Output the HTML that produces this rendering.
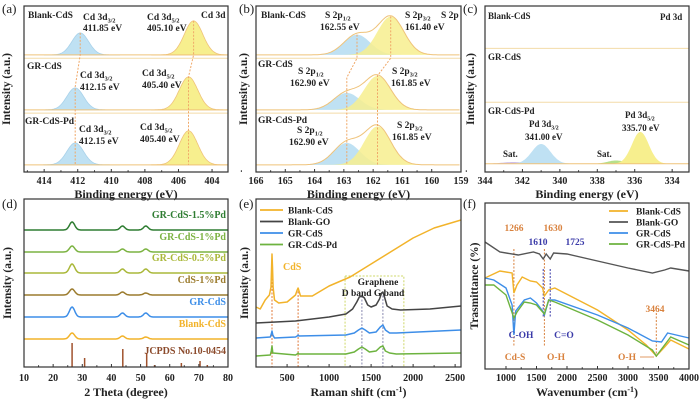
<!DOCTYPE html>
<html><head><meta charset="utf-8"><style>
html,body{margin:0;padding:0;background:#fff;}
svg{display:block;font-family:"Liberation Serif",serif;font-weight:bold;}
</style></head><body>
<svg id="fig" width="700" height="404" viewBox="0 0 700 404" xmlns="http://www.w3.org/2000/svg"></svg>
<script>
// ===== data =====
// (a) Cd 3d XPS
const aSamples=['Blank-CdS','GR-CdS','GR-CdS-Pd'];
const aOffsets=[2.13,1.13,0.13];
const aCd32Pos=[411.85,412.15,412.15];
const aCd32Height=[0.40,0.40,0.40];
const aCd52Pos=[405.10,405.40,405.40];
const aCd52Height=[0.62,0.60,0.62];
const aDividers=[2.07,1.07];
const aTicks=[414,412,410,408,406,404];
// (b) S 2p XPS
const bOffsets=[2.13,1.13,0.13];
const bS12Pos=[162.55,162.90,162.90];
const bS12Height=[0.37,0.31,0.40];
const bS32Pos=[161.40,161.85,161.85];
const bS32Height=[0.70,0.62,0.70];
const bDividers=[2.07,1.07];
const bTicks=[166,165,164,163,162,161,160,159];
// (c) Pd 3d XPS
const cPeakPos=[342.5,341.0,337.0,335.7];
const cPeakHeight=[0.03,0.36,0.06,0.58];
const cPeakWidth=[0.6,0.5,0.45,0.45];
const cOffset=0.15;
const cDividers=[2.25,1.27];
const cTicks=[344,342,340,338,336,334];
// (d) XRD
const dSamples=['GR-CdS-1.5%Pd','GR-CdS-1%Pd','GR-CdS-0.5%Pd','CdS-1%Pd','GR-CdS','Blank-CdS'];
const dBaselines=[137,115,94,72,50,28];
const dPeakPos=[26.5,43.8,51.8];
const dHeights=[[8,4,4],[6,3,3],[9,4,4],[6,3,2],[10,4,4],[6,3,2]];
const dRefPos=[26.5,30.8,43.9,52.1,54.8,64.0,70.4,72.9];
const dRefHeight=[24,9,18,14,2,4,6,2];
const dTicks=[10,20,30,40,50,60,70,80];
// (e) Raman
const eCdSX=[130,180,240,290,308,316,321,326,334,350,400,500,600,620,631,642,660,800,1000,1250,1500,1750,2000,2250,2570];
const eCdSY=[60,58,67,72,80,100,113,100,80,67,64,65,72,77,79,76,71,71,81,90,103,116,129,139,147];
const eGOX=[130,600,1000,1200,1280,1330,1360,1390,1420,1460,1500,1560,1600,1625,1640,1660,1690,1750,1850,2200,2570];
const eGOY=[44,46,50,53,58,65,70,71,69,62,60,62,68,74,75,70,61,58,57,58,61];
const eGRX=[130,300,312,321,330,350,600,620,631,642,1200,1300,1350,1390,1430,1480,1560,1610,1640,1670,1720,1800,2570];
const eGRY=[29,30,33,36,32,29,30,31,32,31,32,34,37,39,37,34,35,40,42,37,34,34,37];
const ePdX=[130,300,312,321,330,600,620,631,642,1200,1300,1350,1390,1430,1480,1560,1610,1640,1670,1720,1800,2570];
const ePdY=[11,12,16,21,14,12,13,14,13,13,15,18,20,18,15,16,20,21,16,14,13,14];
const eTicks=[500,1000,1500,2000,2500];
// (f) FT-IR
const fGOX=[656,900,1200,1450,1550,1610,1660,1725,1780,2000,2500,3000,3400,3600,3700,4000];
const fGOY=[127,117,114,117,115,110,115,110,116,115,108,101,96,99,101,98];
const fCdSX=[656,900,1100,1130,1180,1266,1400,1500,1600,1630,1700,1800,2500,3000,3300,3464,3600,3700,4000];
const fCdSY=[91,98,96,76,84,92,88,87,81,73,79,81,59,39,24,13,22,29,20];
const fGRX=[656,800,1000,1100,1130,1160,1300,1400,1500,1600,1630,1700,1800,2500,3000,3400,3550,3650,4000];
const fGRY=[91,89,81,64,34,58,69,71,66,58,54,69,69,54,41,28,27,36,31];
const fPdX=[656,800,1000,1130,1180,1300,1400,1500,1630,1700,1800,2500,3000,3400,3464,3600,3700,4000];
const fPdY=[84,84,74,51,57,67,66,64,55,69,67,49,34,19,13,24,32,24];
const fTicks=[1000,1500,2000,2500,3000,3500,4000];

// ===== helpers =====
const NS='http://www.w3.org/2000/svg';
const svg=document.getElementById('fig');
function mk(tag,attrs,parent){const e=document.createElementNS(NS,tag);for(const k in attrs)e.setAttribute(k,attrs[k]);(parent||svg).appendChild(e);return e;}
function lin(d0,d1,r0,r1){return v=>r0+(v-d0)*(r1-r0)/(d1-d0);}
function txt(x,y,s,size,color,anchor,parent){
  const e=mk('text',{x:x,y:y,'font-size':size,fill:color||'#222','text-anchor':anchor||'start'},parent);
  const parts=s.split('_');
  e.appendChild(document.createTextNode(parts[0]));
  if(parts[1]){const t=mk('tspan',{'font-size':size*0.65,dy:size*0.25},e);t.textContent=parts[1];}
  return e;
}
function gauss(x,c,h,s){return h*Math.exp(-0.5*((x-c)/s)*((x-c)/s));}

const P={
 a:{x0:24,x1:228,y0:6,y1:172,X:lin(415.2,403.05,24,228),Y:lin(0,3.02,172,6)},
 b:{x0:256,x1:461,y0:6,y1:172,X:lin(166,159,256,461),Y:lin(0,3.02,172,6)},
 c:{x0:485,x1:689,y0:6,y1:172,X:lin(344,333.1,485,689),Y:lin(0,3.02,172,6)},
 d:{x0:24,x1:228,y0:199,y1:367,X:lin(10,80,24,228),Y:lin(0,168,367,199)},
 e:{x0:256,x1:461,y0:199,y1:367,X:lin(130,2570,256,461),Y:lin(0,168,367,199)},
 f:{x0:485,x1:689,y0:203,y1:369,X:lin(656,4000,485,689),Y:lin(0,166,369,203)}
};

function axes(key,ticks,minorStep,xtitle,ytitle,ytx,labelY,titleY){
  const p=P[key];
  const g=mk('g',{});
  
  
  const fr=mk('rect',{x:p.x0,y:p.y0,width:p.x1-p.x0,height:p.y1-p.y0,fill:'none',stroke:'#333','stroke-width':1.2},g);
  
  
  ticks.forEach((t,i)=>{
    const x=p.X(t);
    mk('line',{x1:x,x2:x,y1:p.y1,y2:p.y1-3,stroke:'#333','stroke-width':1},g);
    const lb=txt(x,labelY,String(t),10,'#222','middle',g);
    
    
    if(i<ticks.length-1){const m=p.X(t+minorStep);mk('line',{x1:m,x2:m,y1:p.y1,y2:p.y1-1.8,stroke:'#333','stroke-width':1},g);}
  });
  const xt=mk('text',{x:(p.x0+p.x1)/2,y:titleY,'font-size':12,'text-anchor':'middle',fill:'#222'},g);
  xt.innerHTML=xtitle;
  
  
  const yt=mk('text',{x:0,y:0,'font-size':11.5,'text-anchor':'middle',fill:'#222',transform:`translate(${ytx},${(p.y0+p.y1)/2}) rotate(-90)`},g);
  yt.textContent=ytitle;
  
  
}
function pathFrom(xs,ys,p){return xs.map((v,i)=>(i?'L':'M')+p.X(v).toFixed(1)+','+p.Y(ys[i]).toFixed(1)).join(' ');}
function peak(p,lo,hi,c,h,s,off,fill,stroke){
  let d='M'+p.X(lo)+','+p.Y(off);
  for(let x=lo;(lo<hi?x<=hi:x>=hi);x+=(hi-lo)/80){d+=' L'+p.X(x).toFixed(1)+','+p.Y(off+gauss(x,c,h,s)).toFixed(1);}
  d+=' L'+p.X(hi)+','+p.Y(off)+' Z';
  return mk('path',{d:d,fill:fill,stroke:stroke||'none','stroke-width':0.8});
}
function poly(p,pts,color,dash,w){return mk('path',{d:pts.map((q,i)=>(i?'L':'M')+p.X(q[0]).toFixed(1)+','+p.Y(q[1]).toFixed(1)).join(' '),fill:'none',stroke:color,'stroke-dasharray':dash||'none','stroke-width':w||1});}

const BLUE='#bfe1f3',YEL='#f7ef8e',ENV='#efc37a',DASH='#f0a868';

// panel letters
[['(a)',2,13],['(b)',239,13],['(c)',463,13],['(d)',2,208],['(e)',239,208],['(f)',463,208]].forEach(l=>{
  const e=mk('text',{x:l[1],y:l[2],'font-size':13,'font-weight':'normal',fill:'#222'});e.textContent=l[0];
  
  
});

// ===== (a) =====
(function(){
 const p=P.a;
 aDividers.forEach(v=>{const l=mk('line',{x1:p.x0,x2:p.x1,y1:p.Y(v),y2:p.Y(v),stroke:'#f3dba8','stroke-width':1});
  
  });
 aSamples.forEach((s,i)=>{
  const b=peak(p,414,409.5,aCd32Pos[i],aCd32Height[i],0.5,aOffsets[i],BLUE,'#a9d2ea');
  
  
  const y=peak(p,407.6,403.1,aCd52Pos[i],aCd52Height[i],0.55,aOffsets[i],YEL,ENV);
  
  
  const bl=poly(p,[[415.2,aOffsets[i]],[403.05,aOffsets[i]]],ENV,null,1);
  
  
 });
 const g1=poly(p,[[aCd32Pos[0],aOffsets[0]+aCd32Height[0]],[aCd32Pos[0],aOffsets[0]],[aCd32Pos[1],1.55],[aCd32Pos[2],aOffsets[2]]],DASH,'2,1.5');
 
 
 const g2=poly(p,[[aCd52Pos[0],aOffsets[0]+aCd52Height[0]],[aCd52Pos[0],aOffsets[0]],[aCd52Pos[1],1.73],[aCd52Pos[2],aOffsets[2]]],DASH,'2,1.5');
 
 
 axes('a',aTicks,1,'Binding energy (eV)','Intensity (a.u.)',10,184,198);
})();

// ===== (b) =====
(function(){
 const p=P.b;
 bDividers.forEach(v=>{const l=mk('line',{x1:p.x0,x2:p.x1,y1:p.Y(v),y2:p.Y(v),stroke:'#f3dba8','stroke-width':1});
  
  });
 bOffsets.forEach((o,i)=>{
  const b=peak(p,166,159,bS12Pos[i],bS12Height[i],0.45,o,BLUE,'none');
  
  
  const y=peak(p,166,159,bS32Pos[i],bS32Height[i],0.45,o,'rgba(247,239,142,0.85)','none');
  
  
  let d='';for(let x=166;x>=159;x-=0.05){d+=(d?' L':'M')+p.X(x).toFixed(1)+','+p.Y(o+gauss(x,bS12Pos[i],bS12Height[i],0.45)+gauss(x,bS32Pos[i],bS32Height[i],0.45)).toFixed(1);}
  const env=mk('path',{d:d,fill:'none',stroke:ENV,'stroke-width':1});
  
  
 });
 const g1=poly(p,[[bS12Pos[0],2.5],[bS12Pos[0],2.07],[bS12Pos[1],1.72],[bS12Pos[2],bOffsets[2]]],DASH,'2,1.5');
 
 
 const g2=poly(p,[[bS32Pos[0],bOffsets[0]+bS32Height[0]],[bS32Pos[0],2.07],[bS32Pos[1],1.75],[bS32Pos[2],bOffsets[2]]],DASH,'2,1.5');
 
 
 axes('b',bTicks,0.5,'Binding energy (eV)','Intensity (a.u.)',247,184,198);
})();

// ===== (c) =====
(function(){
 const p=P.c;
 cDividers.forEach(v=>{const l=mk('line',{x1:p.x0,x2:p.x1,y1:p.Y(v),y2:p.Y(v),stroke:'#f3dba8','stroke-width':1});
  
  });
 const cols=['#c8b8e8',BLUE,'#b6e08a',YEL];
 const names=['c-sat-peak-1','c-pd3d32-peak','c-sat-peak-2','c-pd3d52-peak'];
 cPeakPos.forEach((c,i)=>{
  const pk=peak(p,c+2.5,c-2.5,c,cPeakHeight[i],cPeakWidth[i],cOffset,cols[i],'none');
  
  
 });
 const bl=poly(p,[[344,cOffset],[333.1,cOffset]],ENV,null,1);
 
 
 axes('c',cTicks,1,'Binding energy (eV)','Intensity (a.u.)',474,184,198);
})();

// ===== (d) =====
(function(){
 const p=P.d;
 const cols=['#2f7d32','#7cb342','#aab83a','#9c7c2e','#3d8ee8','#f2b32a'];
 dSamples.forEach((s,i)=>{
  let d='';
  for(let x=10;x<=80;x+=0.25){let v=dBaselines[i];dPeakPos.forEach((c,k)=>{v+=gauss(x,c,dHeights[i][k],k?0.8:0.9);});d+=(d?' L':'M')+p.X(x).toFixed(1)+','+p.Y(v).toFixed(1);}
  const ln=mk('path',{d:d,fill:'none',stroke:cols[i],'stroke-width':1.5});
  
  
  const lb=txt(226,p.Y(dBaselines[i])-12,s,10,cols[i],'end');
  
  
 });
 dRefPos.forEach((c,i)=>{
  const r=mk('line',{x1:p.X(c),x2:p.X(c),y1:p.y1,y2:p.Y(dRefHeight[i]),stroke:'#a0522d','stroke-width':1.5});
  
  
 });
 const jl=txt(226,354,'JCPDS No.10-0454',10,'#8b4a2b','end');
 
 
 axes('d',dTicks,5,'2 Theta (degree)','Intensity (a.u.)',11,381,396);
})();

// ===== (e) =====
(function(){
 const p=P.e;
 const box=mk('rect',{x:p.X(1190),y:276,width:p.X(1890)-p.X(1190),height:p.y1-276,fill:'none',stroke:'#cfd86a','stroke-dasharray':'2,1.5','stroke-width':1});
 
 
 [[321,113,'#e0793a'],[631,79,'#e0793a'],[1390,71,'#8a8ab0'],[1640,75,'#8a8ab0']].forEach(q=>{
  const l=poly(p,[[q[0],q[1]],[q[0],0]],q[2],'2,1.5',1);
  
  
 });
 const series=[[eCdSX,eCdSY,'#f2b32a','raman-blank-cds'],[eGOX,eGOY,'#444','raman-blank-go'],[eGRX,eGRY,'#3d8ee8','raman-gr-cds'],[ePdX,ePdY,'#6db33f','raman-gr-cds-pd']];
 series.forEach(s=>{
  const ln=mk('path',{d:pathFrom(s[0],s[1],p),fill:'none',stroke:s[2],'stroke-width':1.5,'stroke-linejoin':'round'});
  
  
 });
 const labs=['Blank-CdS','Blank-GO','GR-CdS','GR-CdS-Pd'];
 labs.forEach((l,i)=>{
  const y=210+i*11.5;
  const ln=mk('line',{x1:260,x2:283,y1:y,y2:y,stroke:series[i][2],'stroke-width':1.8});
  
  
  const t=txt(288,y+3.5,l,9.5,'#222','start');
  
  
 });
 const c1=txt(283,270,'CdS',10,'#f2b32a','start');
 
 
 const g1=txt(378,285,'Graphene',9.5,'#222','middle');
 
 
 const g2=txt(373,296,'D band G band',9.5,'#222','middle');
 
 
 axes('e',eTicks,250,'Raman shift (cm<tspan font-size="8" dy="-4">-1</tspan><tspan dy="4">)</tspan>','Intensity (a.u.)',248,381,396);
})();

// ===== (f) =====
(function(){
 const p=P.f;
 [[1130,120,22,'#d9823e'],[1630,120,22,'#d9823e'],[1610,100,52,'#3a3aa8'],[1725,100,52,'#3a3aa8'],[3464,56,12,'#d9823e']].forEach(q=>{
  const l=poly(p,[[q[0],q[1]],[q[0],q[2]]],q[3],'2,1.5',1);
  
  
 });
 const series=[[fGOX,fGOY,'#555','ir-blank-go'],[fCdSX,fCdSY,'#f2b32a','ir-blank-cds'],[fGRX,fGRY,'#3d8ee8','ir-gr-cds'],[fPdX,fPdY,'#6db33f','ir-gr-cds-pd']];
 series.forEach(s=>{
  const ln=mk('path',{d:pathFrom(s[0],s[1],p),fill:'none',stroke:s[2],'stroke-width':1.4});
  
  
 });
 const labs=[['Blank-CdS','#f2b32a'],['Blank-GO','#555'],['GR-CdS','#3d8ee8'],['GR-CdS-Pd','#6db33f']];
 labs.forEach((l,i)=>{
  const y=211+i*11;
  const ln=mk('line',{x1:609,x2:628,y1:y,y2:y,stroke:l[1],'stroke-width':1.8});
  
  
  const t=txt(636,y+3.5,l[0],9.5,'#222','start');
  
  
 });
 const ann=[['1266',514,231,'#d9823e','middle'],['1630',553,231,'#d9823e','middle'],['1610',538,245,'#3a3aa8','middle'],['1725',575,245,'#3a3aa8','middle'],
  ['C-OH',521,338,'#3a3aa8','middle'],['C=O',564,338,'#3a3aa8','middle'],['Cd-S',515,360,'#d9823e','middle'],['O-H',556,360,'#d9823e','middle'],['O-H',627,360,'#d9823e','middle'],['3464',655,312,'#d9823e','middle']];
 ann.forEach(a=>{
  const t=txt(a[1],a[2],a[0],9.5,a[3],a[4]);
  
  
 });
 const oh=mk('line',{x1:640,x2:654,y1:357,y2:357,stroke:'#d9823e','stroke-width':0.8});
 
 
 axes('f',fTicks,250,'Wavenumber (cm<tspan font-size="8" dy="-4">-1</tspan><tspan dy="4">)</tspan>','Trasmittance (%)',478,381,396);
})();

// ===== XPS labels =====
const xpsLabels=[
 [28,18,'Blank-CdS',9.5,'a-sample-label'],[83,20,'Cd 3d_3/2',9.5,'a-peak-label'],[83,31,'411.85 eV',9.5,'a-peak-value'],
 [147,20,'Cd 3d_5/2',9.5,'a-peak-label'],[147,31,'405.10 eV',9.5,'a-peak-value'],[201,18,'Cd 3d',9.5,'a-element-label'],
 [27,69,'GR-CdS',9.5,'a-sample-label'],[80,78,'Cd 3d_3/2',9.5,'a-peak-label'],[80,90,'412.15 eV',9.5,'a-peak-value'],
 [142,76,'Cd 3d_5/2',9.5,'a-peak-label'],[142,88,'405.40 eV',9.5,'a-peak-value'],
 [25,124,'GR-CdS-Pd',9.5,'a-sample-label'],[79,132,'Cd 3d_3/2',9.5,'a-peak-label'],[79,144,'412.15 eV',9.5,'a-peak-value'],
 [140,130,'Cd 3d_5/2',9.5,'a-peak-label'],[140,142,'405.40 eV',9.5,'a-peak-value'],
 [261,18,'Blank-CdS',9.5,'b-sample-label'],[325,18,'S 2p_1/2',9.5,'b-peak-label'],[320,30,'162.55 eV',9.5,'b-peak-value'],
 [405,18,'S 2p_3/2',9.5,'b-peak-label'],[405,30,'161.40 eV',9.5,'b-peak-value'],[441,18,'S 2p',9.5,'b-element-label'],
 [258,67,'GR-CdS',9.5,'b-sample-label'],[298,74,'S 2p_1/2',9.5,'b-peak-label'],[290,86,'162.90 eV',9.5,'b-peak-value'],
 [392,74,'S 2p_3/2',9.5,'b-peak-label'],[391,86,'161.85 eV',9.5,'b-peak-value'],
 [258,123,'GR-CdS-Pd',9.5,'b-sample-label'],[297,133,'S 2p_1/2',9.5,'b-peak-label'],[289,145,'162.90 eV',9.5,'b-peak-value'],
 [397,128,'S 2p_3/2',9.5,'b-peak-label'],[392,140,'161.85 eV',9.5,'b-peak-value'],
 [488,19,'Blank-CdS',9,'c-sample-label'],[660,20,'Pd 3d',9,'c-element-label'],[488,60,'GR-CdS',9,'c-sample-label'],
 [488,114,'GR-CdS-Pd',9,'c-sample-label'],[529,127,'Pd 3d_3/2',9,'c-peak-label'],[525,140,'341.00 eV',9,'c-peak-value'],
 [625,118,'Pd 3d_5/2',9,'c-peak-label'],[622,131,'335.70 eV',9,'c-peak-value'],[503,157,'Sat.',9,'c-sat-label'],[597,157,'Sat.',9,'c-sat-label']
];
xpsLabels.forEach(l=>{
 const t=txt(l[0],l[1],l[2],l[3],'#222','start');
 
 
});
</script>
</body></html>
